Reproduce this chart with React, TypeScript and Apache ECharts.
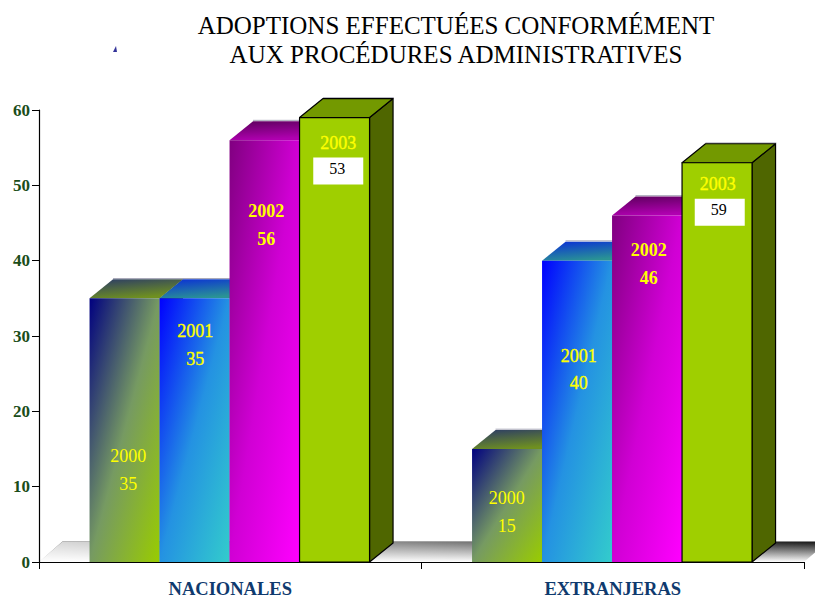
import React, { useEffect, useRef } from "react";
import * as echarts from "echarts";

const categories = ["NACIONALES", "EXTRANJERAS"];
const years = ["2000", "2001", "2002", "2003"];
const yTicks = [0, 10, 20, 30, 40, 50, 60];
// Bar heights as drawn in the picture
const values2000 = [35, 15];
const values2001 = [35, 40];
const values2002 = [56, 46];
const values2003 = [59, 53];
// Numbers printed on the bars (2003 differs from the heights in the source)
const printed2000 = [35, 15];
const printed2001 = [35, 40];
const printed2002 = [56, 46];
const printed2003 = [53, 59];

const barValues = [values2000, values2001, values2002, values2003];
const printed = [printed2000, printed2001, printed2002, printed2003];

// layout, px: vertical distance from the bar's top to the year label, per year/category
const labelDrop = [
  [158, 49],
  [33, 95],
  [71, 35],
  [25, 21],
];
const labelShift = [
  [3, -1],
  [0, 1],
  [1, 1],
  [3, 0],
];
const LINE_GAP = 27.5;

const SERIF = '"Liberation Serif", "Times New Roman", serif';
const YELLOW = "#ffff00";

const grad3 = (a: string, m: string, b: string) =>
  new echarts.graphic.LinearGradient(0, 0, 1, 1, [
    { offset: 0, color: a },
    { offset: 0.5, color: m },
    { offset: 1, color: b },
  ]);
const grad = (a: string, b: string, x2 = 1, y2 = 1) =>
  new echarts.graphic.LinearGradient(0, 0, x2, y2, [
    { offset: 0, color: a },
    { offset: 1, color: b },
  ]);

const faces = [
  { front: () => grad3("#000080", "#769a62", "#99cc00"), top: () => grad("#2a3a68", "#6f9020", 0.45, 1), side: "#4f6600", stroke: null },
  { front: () => grad3("#0000ff", "#2492e2", "#33cccc"), top: () => grad("#0a2cd8", "#2a9494", 0.45, 1), side: "#1f7a7a", stroke: null },
  { front: () => grad3("#800080", "#d000d4", "#ff00ff"), top: () => grad("#5c005c", "#b000b0", 0.3, 1), side: "#800080", stroke: null },
  { front: () => "#9fcf00", top: () => "#739900", side: "#4f6600", stroke: "#000000" },
];

const BAR_FRACTION = 70 / 382.5;
const DEPTH_X = 23.5;
const DEPTH_Y = 19;
const NUDGE_X = -0.7;

function barRenderer(yearIdx: number) {
  return (_params: any, api: any) => {
    const cat = api.value(0) as number;
    const val = api.value(1) as number;
    const [cx, yTop] = api.coord([cat, val]);
    const [, yBase] = api.coord([cat, 0]);
    const w = api.size([1, 0])[0] * BAR_FRACTION;
    const x0 = cx + (yearIdx - 2) * w + NUDGE_X;
    const x1 = x0 + w;
    const f = faces[yearIdx];
    const strokeStyle = f.stroke ? { stroke: f.stroke, lineWidth: 1.2, lineJoin: "round" } : { stroke: null };
    const children: any[] = [
      {
        type: "polygon",
        shape: { points: [[x1, yTop], [x1 + DEPTH_X, yTop - DEPTH_Y], [x1 + DEPTH_X, yBase - DEPTH_Y], [x1, yBase]] },
        style: { fill: f.side, ...strokeStyle },
      },
      {
        type: "polyline",
        shape: { points: [[x0 + DEPTH_X, yTop - DEPTH_Y - 0.8], [x1 + DEPTH_X + 0.8, yTop - DEPTH_Y - 0.8]] },
        style: { fill: null, stroke: "#a8a8b8", lineWidth: 1 },
      },
      {
        type: "polygon",
        shape: { points: [[x0, yTop], [x0 + DEPTH_X, yTop - DEPTH_Y], [x1 + DEPTH_X, yTop - DEPTH_Y], [x1, yTop]] },
        style: { fill: f.top(), ...strokeStyle },
      },
      {
        type: "rect",
        shape: { x: x0, y: yTop, width: w, height: yBase - yTop },
        style: { fill: f.front(), ...strokeStyle },
      },
    ];
    const lx = x0 + w / 2 + labelShift[yearIdx][cat] + 0.7;
    const ly = yTop + labelDrop[yearIdx][cat];
    const bold = yearIdx === 2;
    const yearStyle: any = {
      text: years[yearIdx],
      x: lx,
      y: ly,
      fill: YELLOW,
      font: `${bold ? "bold " : ""}18px ${SERIF}`,
      align: "center",
      verticalAlign: "middle",
    };
    if (yearIdx === 1 || yearIdx === 3) {
      yearStyle.stroke = YELLOW;
      yearStyle.lineWidth = 0.35;
    }
    children.push({ type: "text", style: yearStyle });
    const num = String(printed[yearIdx][cat]);
    if (yearIdx === 3) {
      const bx = lx + (cat === 0 ? 0 : 2);
      children.push({
        type: "rect",
        shape: { x: bx - 25, y: ly + 15, width: 50, height: 27 },
        style: { fill: "#ffffff" },
      });
      children.push({
        type: "text",
        style: {
          text: num,
          x: bx - 1,
          y: ly + 26,
          fill: "#000000",
          font: `16px ${SERIF}`,
          align: "center",
          verticalAlign: "middle",
        },
      });
    } else {
      children.push({
        type: "text",
        style: { ...yearStyle, text: num, y: ly + LINE_GAP },
      });
    }
    return { type: "group", children };
  };
}

function floorRenderer(params: any, _api: any) {
  const { x, y, width, height } = params.coordSys;
  const b = y + height;
  const pts = [[x, b], [x + DEPTH_X, b - 20.5], [x + width + DEPTH_X, b - 20.5], [x + width, b]];
  return {
    type: "group",
    children: [
      {
        type: "polygon",
        shape: { points: pts },
        style: {
          stroke: null,
          fill: new echarts.graphic.LinearGradient(0, 0, 0, 1, [
            { offset: 0, color: "#111111" },
            { offset: 1, color: "#ffffff" },
          ]),
        },
      },
      {
        type: "polygon",
        shape: { points: pts },
        style: {
          stroke: null,
          fill: new echarts.graphic.LinearGradient(0, 0, 1, 0, [
            { offset: 0, color: "rgba(255,255,255,0.85)" },
            { offset: 0.5, color: "rgba(255,255,255,0.45)" },
            { offset: 1, color: "rgba(255,255,255,0)" },
          ]),
        },
      },
    ],
  };
}

export default function App() {
  const ref = useRef<HTMLDivElement>(null);
  useEffect(() => {
    document.body.style.margin = "0";
    const chart = echarts.init(ref.current!, undefined, { renderer: "svg" });
    chart.setOption({
      animation: false,
      backgroundColor: "#ffffff",
      title: {
        text: "ADOPTIONS EFFECTUÉES CONFORMÉMENT\nAUX PROCÉDURES ADMINISTRATIVES",
        left: 451,
        top: 6,
        textAlign: "center",
        textStyle: {
          fontFamily: SERIF,
          fontSize: 25,
          fontWeight: "normal",
          color: "#000000",
          lineHeight: 29,
        },
      },
      graphic: [
        {
          type: "polygon",
          shape: { points: [[113, 52], [116, 46], [117, 52]] },
          style: { fill: "#333399" },
        },
      ],
      grid: { left: 39, right: 11, top: 110, bottom: 35, outerBoundsMode: "none" },
      xAxis: {
        type: "category",
        data: categories,
        z: 10,
        axisLine: { show: true, lineStyle: { color: "#000000", width: 1.2 } },
        axisTick: { show: true, alignWithLabel: false, length: 7, lineStyle: { color: "#000000", width: 1 } },
        axisLabel: {
          margin: 17,
          fontFamily: SERIF,
          fontSize: 18.5,
          fontWeight: "bold",
          color: "#0f3a6e",
        },
      },
      yAxis: {
        type: "value",
        min: yTicks[0],
        max: yTicks[yTicks.length - 1],
        interval: 10,
        z: 10,
        splitLine: { show: false },
        axisLine: { show: true, lineStyle: { color: "#000000", width: 1.2 } },
        axisTick: { show: true, length: 7, lineStyle: { color: "#000000", width: 1 } },
        axisLabel: {
          margin: 9,
          fontFamily: SERIF,
          fontSize: 17,
          fontWeight: "bold",
          color: "#1a4d1a",
        },
      },
      series: [
        { type: "custom", name: "floor", z: 1, silent: true, clip: false, data: [[0, 0]], renderItem: floorRenderer },
        ...years.map((year, i) => ({
          type: "custom",
          name: year,
          z: 2 + i,
          clip: false,
          encode: { x: 0, y: 1 },
          data: barValues[i].map((v, c) => [c, v]),
          renderItem: barRenderer(i),
        })),
      ],
    });
    return () => chart.dispose();
  }, []);
  return <div ref={ref} style={{ width: 815, height: 597 }} />;
}
